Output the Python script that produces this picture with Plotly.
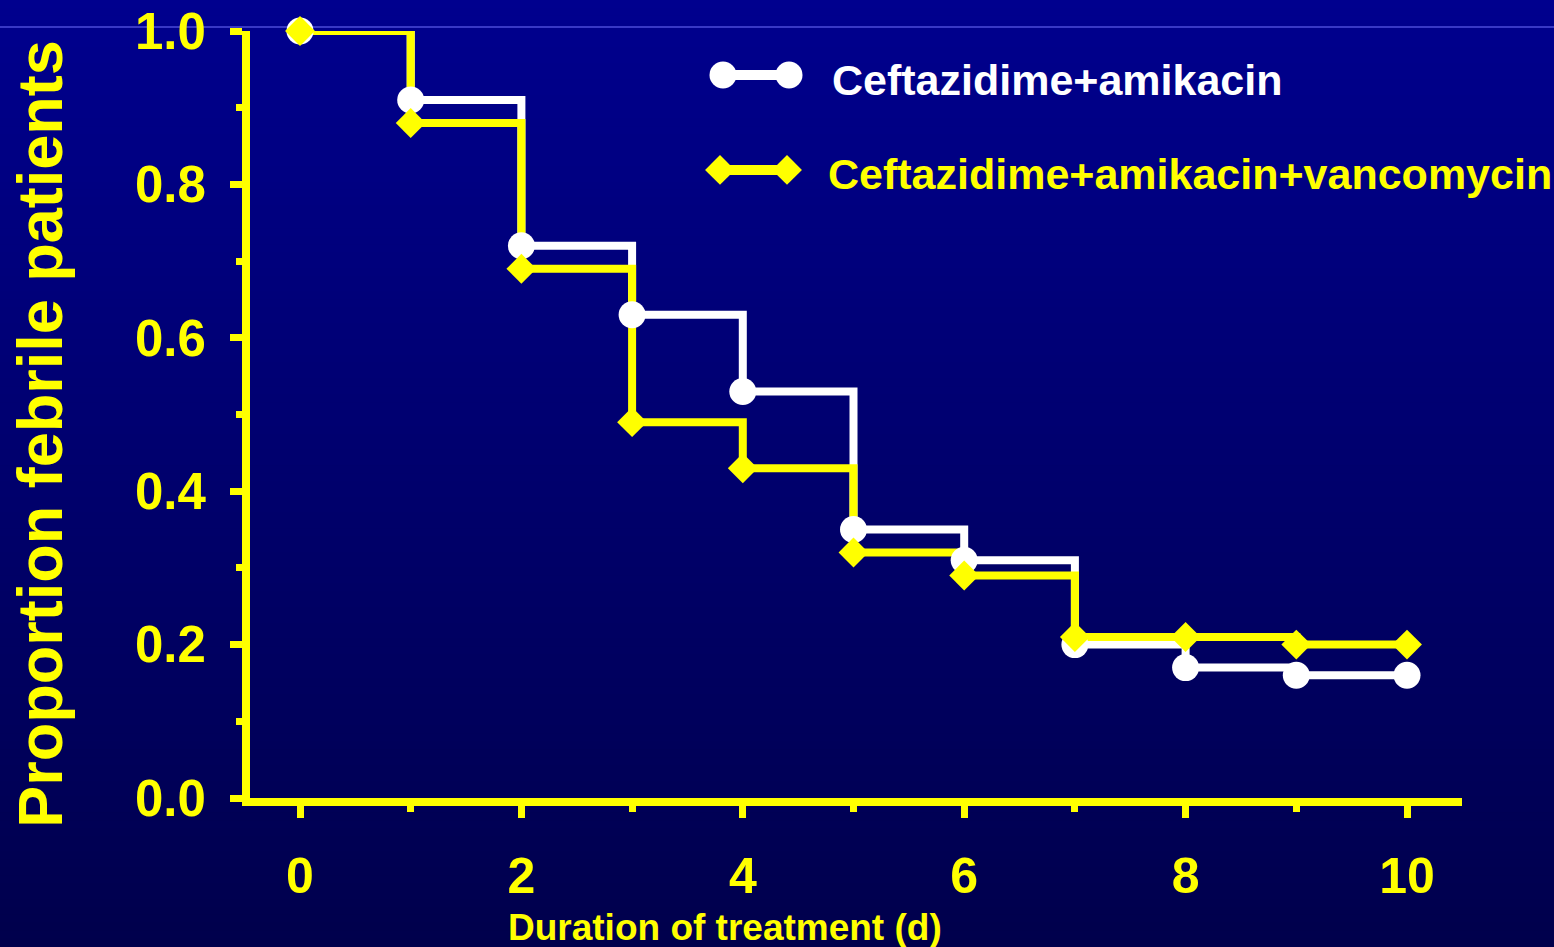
import plotly.graph_objects as go

# Kaplan-Meier style proportion of febrile patients per day of treatment
days = [0, 1, 2, 3, 4, 5, 6, 7, 8, 9, 10]
caz_amk = [1.00, 0.91, 0.72, 0.63, 0.53, 0.35, 0.31, 0.20, 0.17, 0.16, 0.16]
caz_amk_van = [1.00, 0.88, 0.69, 0.49, 0.43, 0.32, 0.29, 0.21, 0.21, 0.20, 0.20]
series_names = ["Ceftazidime+amikacin", "Ceftazidime+amikacin+vancomycin"]
x_ticks = [0, 2, 4, 6, 8, 10]
y_ticks = [0.0, 0.2, 0.4, 0.6, 0.8, 1.0]
x_title = "Duration of treatment (d)"
y_title = "Proportion febrile patients"

W, H = 1554, 947
L, R, T, B = 250, 1462, 31, 798.5          # plot area edges in pixels
YELLOW = "#FFFF00"
WHITE = "#FFFFFF"
FONT = "Liberation Sans, Arial, sans-serif"
TOP_RGB = (0, 0, 142)
BOT_RGB = (0, 0, 76)


def px_x(p):
    return (p - L) / (R - L)


def px_y(p):
    return (B - p) / (B - T)


# x range chosen so that day 0 and day 10 sit at fixed positions
x_per_px = 10 / (1407 - 300)
x_range = [(L - 300) * x_per_px, (R - 300) * x_per_px]

fig = go.Figure()

# step lines first, then markers so symbols sit on top of both lines
fig.add_trace(go.Scatter(x=days, y=caz_amk, mode="lines", line=dict(color=WHITE, width=8, shape="hv"),
                         cliponaxis=False, showlegend=False, hoverinfo="skip"))
fig.add_trace(go.Scatter(x=days, y=caz_amk_van, mode="lines", line=dict(color=YELLOW, width=8, shape="hv"),
                         cliponaxis=False, showlegend=False, hoverinfo="skip"))
fig.add_trace(go.Scatter(x=days, y=caz_amk, mode="markers", name=series_names[0],
                         marker=dict(symbol="circle", size=27, color=WHITE, line=dict(width=0)),
                         cliponaxis=False, showlegend=False))
fig.add_trace(go.Scatter(x=days, y=caz_amk_van, mode="markers", name=series_names[1],
                         marker=dict(symbol="diamond", size=23, color=YELLOW, line=dict(width=0)),
                         cliponaxis=False, showlegend=False))

# legend keys on an overlay axis in plot-area fractions
legend_keys = [
    (WHITE, "circle", 27, 723, 789, 75),
    (YELLOW, "diamond", 23, 720, 787, 170),
]
for color, symbol, size, xa, xb, yc in legend_keys:
    fig.add_trace(go.Scatter(x=[px_x(xa), px_x(xb)], y=[px_y(yc), px_y(yc)], mode="lines+markers",
                             line=dict(color=color, width=10),
                             marker=dict(symbol=symbol, size=size, color=color, line=dict(width=0)),
                             xaxis="x2", yaxis="y2", cliponaxis=False, showlegend=False, hoverinfo="skip"))

# vertical background gradient built from thin strips
shapes = []
n = 120
for i in range(n):
    t = (i + 0.5) / n
    r = round(TOP_RGB[0] + (BOT_RGB[0] - TOP_RGB[0]) * t)
    g = round(TOP_RGB[1] + (BOT_RGB[1] - TOP_RGB[1]) * t)
    b = round(TOP_RGB[2] + (BOT_RGB[2] - TOP_RGB[2]) * t)
    y0 = px_y(H * i / n)
    y1 = px_y(H * (i + 1) / n + 1)
    shapes.append(dict(type="rect", xref="paper", yref="paper", layer="below",
                       x0=px_x(0), x1=px_x(W), y0=y0, y1=y1,
                       fillcolor=f"rgb({r},{g},{b})", line=dict(width=0)))
# thin rule across the top
shapes.append(dict(type="line", xref="paper", yref="paper", layer="below",
                   x0=px_x(0), x1=px_x(W), y0=px_y(27), y1=px_y(27),
                   line=dict(color="#3838C4", width=2)))

annotations = [
    dict(text=f"<b>{series_names[0]}</b>", xref="paper", yref="paper", x=px_x(830), y=px_y(80),
         xanchor="left", yanchor="middle", showarrow=False, font=dict(family=FONT, size=43, color=WHITE)),
    dict(text=f"<b>{series_names[1]}</b>", xref="paper", yref="paper", x=px_x(826), y=px_y(174),
         xanchor="left", yanchor="middle", showarrow=False, font=dict(family=FONT, size=43, color=YELLOW)),
    dict(text=f"<b>{y_title}</b>", xref="paper", yref="paper", x=px_x(40), y=px_y(434),
         xanchor="center", yanchor="middle", textangle=-90, showarrow=False,
         font=dict(family=FONT, size=63, color=YELLOW)),
    dict(text=f"<b>{x_title}</b>", xref="paper", yref="paper", x=px_x(725), y=px_y(928),
         xanchor="center", yanchor="middle", showarrow=False,
         font=dict(family=FONT, size=37, color=YELLOW)),
]

axis_common = dict(showgrid=False, zeroline=False, showline=True, linecolor=YELLOW, linewidth=8,
                   ticks="outside", ticklen=12, tickwidth=7, tickcolor=YELLOW,
                   automargin=False, fixedrange=True)

fig.update_layout(
    template="none",
    width=W, height=H,
    margin=dict(l=L, r=W - R, t=T, b=H - B, pad=0, autoexpand=False),
    paper_bgcolor="rgb(0,0,76)",
    plot_bgcolor="rgba(0,0,0,0)",
    shapes=shapes,
    annotations=annotations,
    showlegend=False,
    xaxis=dict(range=x_range, tickmode="array", tickvals=x_ticks, ticktext=[str(v) for v in x_ticks],
               minor=dict(tickvals=[1, 3, 5, 7, 9], ticks="outside", ticklen=6, tickwidth=7, tickcolor=YELLOW),
               tickfont=dict(family=FONT, size=50, color=YELLOW, weight="bold"), ticklabelstandoff=15,
               **axis_common),
    yaxis=dict(range=[0, 1], tickmode="array", tickvals=y_ticks, ticktext=[f"{v:.1f}" for v in y_ticks],
               minor=dict(tickvals=[0.1, 0.3, 0.5, 0.7, 0.9], ticks="outside", ticklen=6, tickwidth=7,
                          tickcolor=YELLOW),
               tickfont=dict(family=FONT, size=51, color=YELLOW, weight="bold"), ticklabelstandoff=14,
               **axis_common),
    xaxis2=dict(overlaying="x", range=[0, 1], visible=False, fixedrange=True),
    yaxis2=dict(overlaying="y", range=[0, 1], visible=False, fixedrange=True),
)

fig.write_html("out.html", config={"displayModeBar": False})
